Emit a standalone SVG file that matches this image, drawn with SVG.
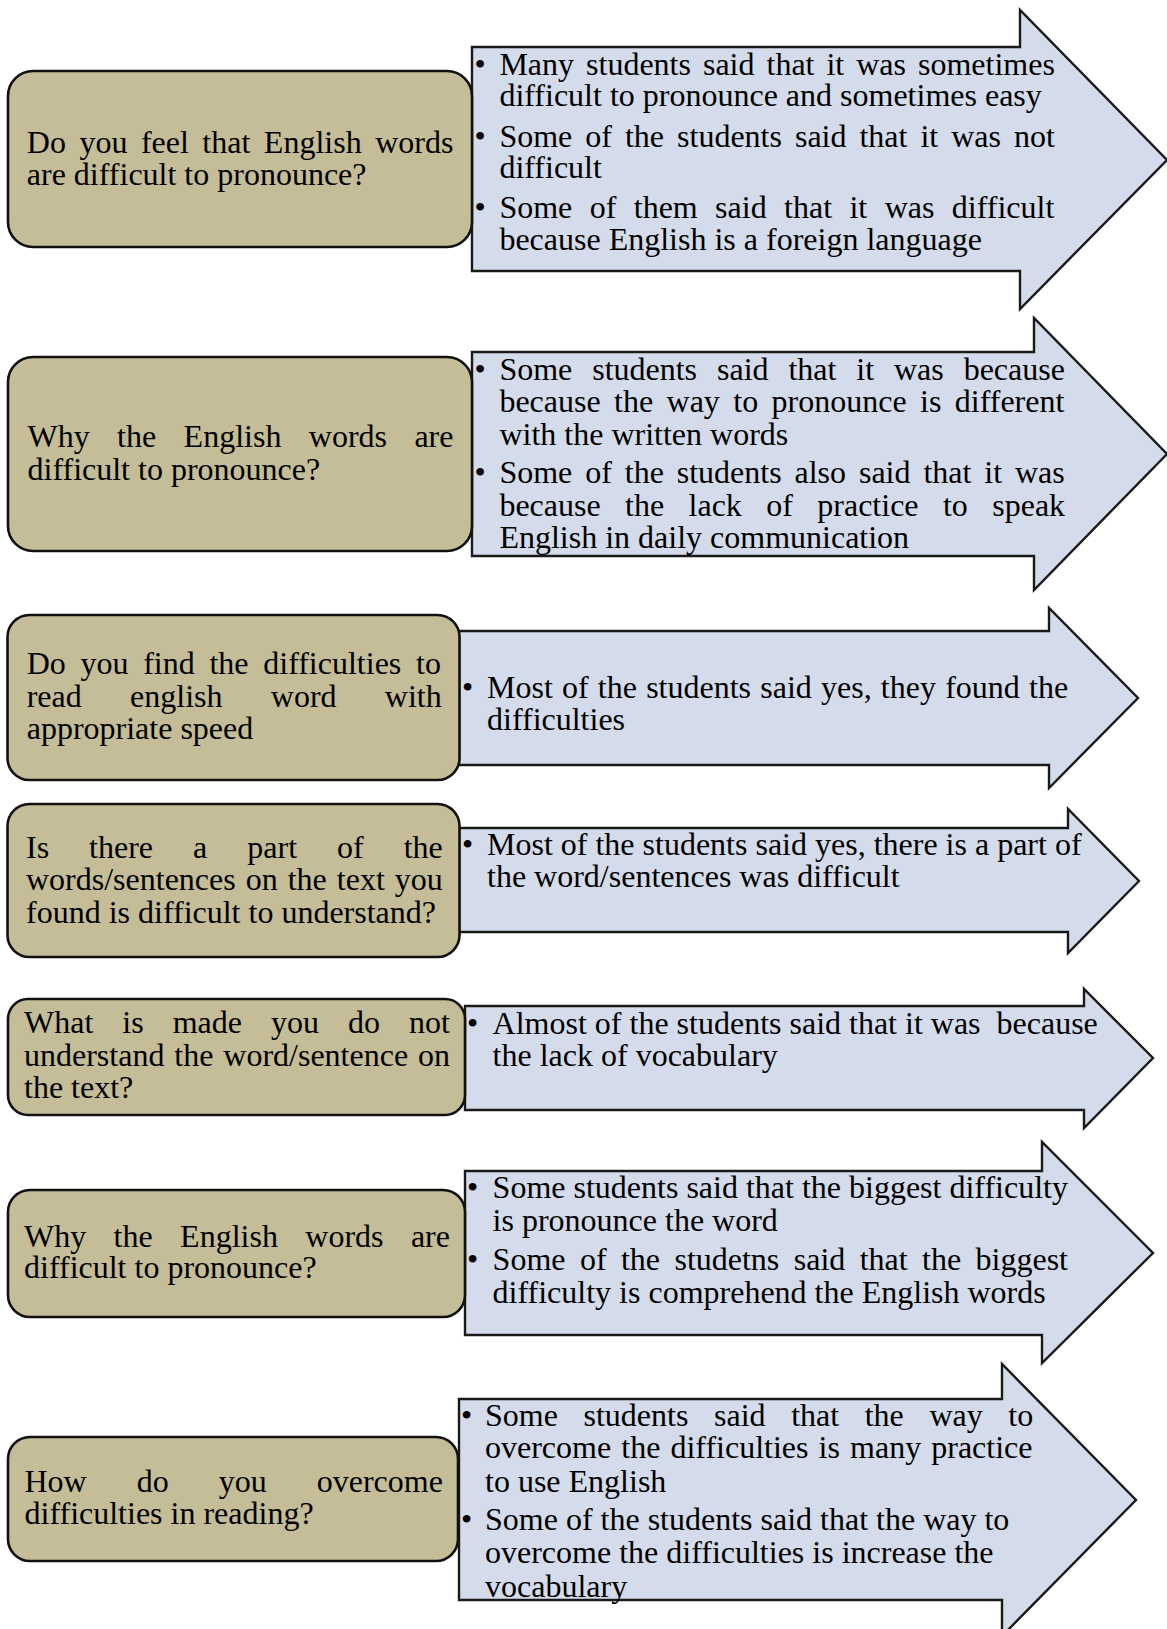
<svg xmlns="http://www.w3.org/2000/svg" width="1167" height="1629" viewBox="0 0 1167 1629">
<style>
.box{fill:#c4bd97;stroke:#111;stroke-width:2.6}
.arr{fill:#d4dbea;stroke:#1a1a1a;stroke-width:2.4;stroke-linejoin:miter}
text{font-family:"Liberation Serif","Times New Roman",serif;font-size:32px;fill:#000}
</style>
<rect width="1167" height="1629" fill="#fff"/>
<g id="connectors">
<path id="arrow1" class="arr" d="M472,47 L1020,47 L1020,10 L1167,160 L1020,309 L1020,271 L472,271 Z"/>
<path id="arrow2" class="arr" d="M472,352 L1034,352 L1034,318 L1167,454 L1034,590 L1034,556 L472,556 Z"/>
<path id="arrow3" class="arr" d="M459,631 L1049,631 L1049,608 L1138,698 L1049,788 L1049,765 L459,765 Z"/>
<path id="arrow4" class="arr" d="M459,828 L1068,828 L1068,809 L1139,881 L1068,953 L1068,932 L459,932 Z"/>
<path id="arrow5" class="arr" d="M465,1006 L1084,1006 L1084,989 L1153,1058 L1084,1128 L1084,1110 L465,1110 Z"/>
<path id="arrow6" class="arr" d="M465,1171 L1042,1171 L1042,1142 L1153,1253 L1042,1363 L1042,1335 L465,1335 Z"/>
<path id="arrow7" class="arr" d="M459,1399 L1002,1399 L1002,1364 L1136,1500 L1002,1636 L1002,1600 L459,1600 Z"/>
</g>
<g id="q1"><rect class="box" x="8" y="71" width="464" height="176" rx="25"/>
<text x="26.8" y="153" word-spacing="5.5">Do you feel that English words</text>
<text x="26.8" y="185">are difficult to pronounce?</text></g>
<g id="a1">
<text x="474.5" y="75">•</text><text x="499.4" y="75" word-spacing="4">Many students said that it was sometimes</text>
<text x="499.4" y="106">difficult to pronounce and sometimes easy</text>
<text x="474.5" y="147">•</text><text x="499.4" y="147" word-spacing="5">Some of the students said that it was not</text>
<text x="499.4" y="178">difficult</text>
<text x="474.5" y="218">•</text><text x="499.4" y="218" word-spacing="9.4">Some of them said that it was difficult</text>
<text x="499.4" y="250">because English is a foreign language</text></g>
<g id="q2"><rect class="box" x="8" y="357" width="464" height="194" rx="25"/>
<text x="27.5" y="447" word-spacing="19.4">Why the English words are</text>
<text x="27.5" y="480">difficult to pronounce?</text></g>
<g id="a2">
<text x="474.5" y="380">•</text><text x="499.4" y="380" word-spacing="11.9">Some students said that it was because</text>
<text x="499.4" y="412" word-spacing="5.4">because the way to pronounce is different</text>
<text x="499.4" y="445">with the written words</text>
<text x="474.5" y="483">•</text><text x="499.4" y="483" word-spacing="4.9">Some of the students also said that it was</text>
<text x="499.4" y="516" word-spacing="16.4">because the lack of practice to speak</text>
<text x="499.4" y="548">English in daily communication</text></g>
<g id="q3"><rect class="box" x="7.5" y="615" width="452" height="165" rx="22"/>
<text x="26.7" y="674" word-spacing="6.7">Do you find the difficulties to</text>
<text x="26.7" y="707" word-spacing="40.3">read english word with</text>
<text x="26.7" y="739">appropriate speed</text></g>
<g id="a3">
<text x="462" y="698">•</text><text x="487" y="698" word-spacing="1.2">Most of the students said yes, they found the</text>
<text x="487" y="730">difficulties</text></g>
<g id="q4"><rect class="box" x="7.5" y="804" width="452" height="153" rx="22"/>
<text x="26" y="858" word-spacing="32">Is there a part of the</text>
<text x="26" y="890" word-spacing="2">words/sentences on the text you</text>
<text x="26" y="923">found is difficult to understand?</text></g>
<g id="a4">
<text x="462" y="855">•</text><text x="487" y="855">Most of the students said yes, there is a part of</text>
<text x="487" y="887">the word/sentences was difficult</text></g>
<g id="q5"><rect class="box" x="8" y="999" width="457" height="116" rx="20"/>
<text x="24" y="1033" word-spacing="21">What is made you do not</text>
<text x="24" y="1066" word-spacing="1.9">understand the word/sentence on</text>
<text x="24" y="1098">the text?</text></g>
<g id="a5">
<text x="467" y="1034">•</text><text x="492.6" y="1034">Almost of the students said that it was&#160; because</text>
<text x="492.6" y="1066">the lack of vocabulary</text></g>
<g id="q6"><rect class="box" x="8" y="1190" width="457" height="127" rx="22"/>
<text x="24" y="1247" word-spacing="19.4">Why the English words are</text>
<text x="24" y="1278">difficult to pronounce?</text></g>
<g id="a6">
<text x="467" y="1198">•</text><text x="492.6" y="1198">Some students said that the biggest difficulty</text>
<text x="492.6" y="1231">is pronounce the word</text>
<text x="467" y="1270">•</text><text x="492.6" y="1270" word-spacing="6.4">Some of the studetns said that the biggest</text>
<text x="492.6" y="1303">difficulty is comprehend the English words</text></g>
<g id="q7"><rect class="box" x="8" y="1437" width="450" height="124" rx="22"/>
<text x="24.5" y="1492" word-spacing="42">How do you overcome</text>
<text x="24.5" y="1524">difficulties in reading?</text></g>
<g id="a7">
<text x="461" y="1426">•</text><text x="485" y="1426" word-spacing="17.6">Some students said that the way to</text>
<text x="485" y="1458" word-spacing="2.1">overcome the difficulties is many practice</text>
<text x="485" y="1492">to use English</text>
<text x="461" y="1530">•</text><text x="485" y="1530">Some of the students said that the way to</text>
<text x="485" y="1563">overcome the difficulties is increase the</text>
<text x="485" y="1597">vocabulary</text></g>
</svg>
